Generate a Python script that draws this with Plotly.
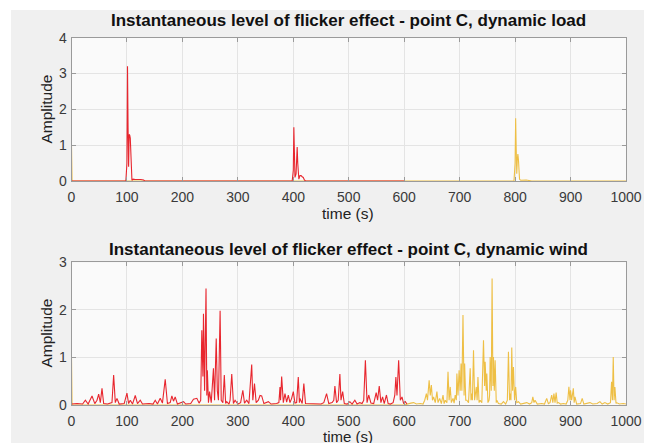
import plotly.graph_objects as go

# ---------------- data ----------------
xticks = [0, 100, 200, 300, 400, 500, 600, 700, 800, 900, 1000]

# top panel: dynamic load
t_load_red = [0, 98, 100, 101, 102, 103, 104, 105, 106, 107, 108, 109, 111, 115, 125, 130, 132,
              398, 400, 401, 402, 403, 405, 406, 407, 408, 409, 410, 412, 414, 416, 418, 420, 422, 600]
a_load_red = [0, 0, 0.5, 3.2, 1.5, 0.4, 1.3, 1.28, 1.2, 0.8, 0.2, 0.02, 0.05, 0.04, 0.04, 0.03, 0,
              0, 0.3, 1.5, 0.8, 0.1, 0.2, 0.6, 0.95, 0.5, 0.1, 0.05, 0.15, 0.15, 0.12, 0.1, 0.03, 0, 0]
t_load_yel = [0, 1, 600, 798, 800, 801, 802, 803, 804, 805, 806, 807, 808, 810, 820, 830, 1000]
a_load_yel = [1.0, 0, 0, 0, 0.5, 1.75, 0.9, 0.2, 0.6, 0.75, 0.6, 0.2, 0.05, 0.02, 0.03, 0, 0]

# bottom panel: dynamic wind
t_wind_red = [0, 10, 20, 25, 30, 37, 42, 46, 49, 52, 55, 58, 65, 73, 76, 79, 82, 86, 95, 100,
              103, 106, 110, 115, 119, 124, 128, 140, 147, 151, 155, 160, 164, 169, 173, 178, 181,
              184, 187, 191, 202, 206, 215, 220, 226, 230, 233, 235, 237, 238, 240, 242.6, 244, 245,
              247, 249, 252, 256, 258, 261, 263, 265, 268, 270, 273, 275.6, 278, 280, 284, 286, 289,
              292, 295, 300, 305, 309, 312, 316, 320, 325, 327, 330, 333, 337, 340, 343, 347, 355,
              360, 370, 374, 376, 377, 379, 382, 385, 388, 391, 394, 397, 400, 403, 406, 409, 411,
              412, 416, 419, 422, 427, 440, 450, 455, 460, 464, 470, 473, 475, 478, 481, 484, 486,
              489, 492, 497, 502, 506, 511, 515, 520, 524, 527, 530, 533, 536, 540, 545, 549.5, 552,
              555, 558, 561, 564, 568, 571, 575, 580, 583, 585, 587, 590, 593, 596, 599, 602, 605]
a_wind_red = [0.02, 0.03, 0.02, 0.1, 0.02, 0.19, 0.03, 0.1, 0.23, 0.05, 0.35, 0.03, 0.02, 0.05,
              0.63, 0.05, 0.14, 0.02, 0.03, 0.25, 0.03, 0.1, 0.02, 0.2, 0.03, 0.1, 0.02, 0.03, 0.02,
              0.1, 0.02, 0.14, 0.04, 0.54, 0.03, 0.05, 0.19, 0.08, 0.17, 0.02, 0.07, 0.02, 0.03, 0.12,
              0.14, 0.04, 0.1, 1.57, 0.6, 1.92, 0.3, 2.45, 0.2, 0.73, 0.05, 0.28, 0.05, 0.77, 0.1,
              1.4, 0.3, 0.1, 1.98, 0.1, 0.05, 0.63, 0.03, 0.07, 0.02, 0.1, 0.65, 0.03, 0.1, 0.02,
              0.05, 0.31, 0.04, 0.1, 0.03, 0.85, 0.1, 0.45, 0.05, 0.1, 0.2, 0.19, 0.03, 0.07, 0.02,
              0.03, 0.05, 0.38, 0.1, 0.6, 0.05, 0.24, 0.06, 0.21, 0.05, 0.14, 0.28, 0.04, 0.05, 0.59,
              0.05, 0.14, 0.03, 0.45, 0.03, 0.03, 0.02, 0.02, 0.05, 0.24, 0.03, 0.05, 0.1, 0.4, 0.05,
              0.1, 0.65, 0.1, 0.28, 0.03, 0.02, 0.07, 0.02, 0.1, 0.02, 0.05, 0.03, 0.1, 0.94, 0.05,
              0.21, 0.04, 0.03, 0.26, 0.1, 0.4, 0.05, 0.17, 0.03, 0.21, 0.03, 0.02, 0.05, 0.2, 0.59,
              0.2, 0.94, 0.1, 0.17, 0.03, 0.07, 0.02]
t_wind_yel = [0, 1, 600, 605, 612, 617, 622, 629, 634, 637, 640, 642, 645, 647, 649, 651, 653, 656,
              659, 661, 664, 667, 670, 672, 674, 677, 679, 681, 683, 685, 688, 690, 692, 694, 695,
              697, 699, 701, 702.5, 704, 706, 708, 709, 711, 713, 716, 719, 720.5, 721.6, 723, 725,
              727, 730, 731.5, 733, 735, 737, 740, 743, 745, 746, 748, 749, 751, 753, 754, 755, 757,
              758.5, 760, 761, 762.5, 764, 766, 767, 770, 775, 779, 783, 786, 788, 790, 791, 792.5,
              794, 795.5, 797, 799, 801, 803, 806, 810, 815, 821, 826, 830, 832, 834, 836, 840, 848,
              853, 857, 860, 863, 866, 868, 870, 872, 874, 876, 878, 882, 887, 892, 895, 897, 899,
              900, 902, 905, 906.5, 908, 911, 918, 921, 924, 930, 935, 940, 948, 953, 957, 962, 967,
              972, 974, 975.5, 977, 978.5, 980, 982, 983, 988, 995, 1000]
a_wind_yel = [1.0, 0, 0, 0.02, 0.04, 0.05, 0.02, 0.03, 0.02, 0.1, 0.24, 0.1, 0.52, 0.2, 0.42, 0.1,
              0.17, 0.05, 0.28, 0.05, 0.14, 0.03, 0.21, 0.03, 0.1, 0.05, 0.7, 0.1, 0.38, 0.05, 0.14,
              0.04, 0.21, 0.1, 0.66, 0.2, 0.73, 0.3, 0.87, 0.3, 1.89, 0.2, 0.87, 0.1, 0.1, 0.05, 0.77,
              0.1, 0.24, 0.1, 1.15, 0.1, 0.38, 0.1, 0.59, 0.05, 0.1, 0.05, 1.36, 0.4, 0.91, 0.3, 0.66,
              0.05, 0.1, 0.2, 1.01, 0.3, 2.66, 0.4, 1.01, 0.3, 0.94, 0.05, 0.1, 0.03, 0.02, 0.07,
              0.02, 0.1, 1.12, 0.1, 0.24, 0.1, 1.21, 0.3, 0.8, 0.1, 0.38, 0.05, 0.07, 0.02, 0.03,
              0.05, 0.02, 0.05, 0.17, 0.05, 0.1, 0.02, 0.03, 0.02, 0.14, 0.03, 0.05, 0.21, 0.05, 0.24,
              0.05, 0.26, 0.04, 0.05, 0.02, 0.03, 0.02, 0.1, 0.38, 0.1, 0.31, 0.1, 0.35, 0.05, 0.17,
              0.02, 0.03, 0.14, 0.02, 0.03, 0.05, 0.02, 0.03, 0.07, 0.02, 0.05, 0.02, 0.05, 0.49, 0.1,
              1.01, 0.1, 0.38, 0.03, 0.05, 0.02, 0.03, 0.02]

title_top = "Instantaneous level of flicker effect - point C, dynamic load"
title_bot = "Instantaneous level of flicker effect - point C, dynamic wind"

# ---------------- styling ----------------
# the page adds an 8px body margin, so the figure is 8px smaller and all
# positions below are given in figure pixels (page pixels minus 8)
W, H = 644, 435
RED = "#e8262e"
YEL = "#eebf45"
FIG_BG = "#f0f0f0"
AX_BG = "#fafafa"
FONT = "Liberation Sans, Arial, sans-serif"

def px(x):
    return x / W

def py(y):
    return 1 - y / H

fig = go.Figure()
fig.add_trace(go.Scatter(x=t_load_yel, y=a_load_yel, mode="lines", line=dict(color=YEL, width=1.1),
                         xaxis="x", yaxis="y", showlegend=False))
fig.add_trace(go.Scatter(x=t_load_red, y=a_load_red, mode="lines", line=dict(color=RED, width=1.1),
                         xaxis="x", yaxis="y", showlegend=False))
fig.add_trace(go.Scatter(x=t_wind_yel, y=a_wind_yel, mode="lines", line=dict(color=YEL, width=1.1),
                         xaxis="x2", yaxis="y2", showlegend=False))
fig.add_trace(go.Scatter(x=t_wind_red, y=a_wind_red, mode="lines", line=dict(color=RED, width=1.1),
                         xaxis="x2", yaxis="y2", showlegend=False))

xdom = [px(63.5), px(618)]
common_x = dict(range=[0, 1000], tickvals=xticks, domain=xdom, automargin=False, showgrid=True,
                gridcolor="#e4e4e4", gridwidth=1, zeroline=False, showline=True, linecolor="#9a9a9a",
                linewidth=1, mirror="ticks", ticks="inside", ticklen=4, tickcolor="#9a9a9a",
                tickfont=dict(family=FONT, size=14, color="#3a3a3a"), ticklabelstandoff=3)
common_y = dict(automargin=False, showgrid=True, gridcolor="#e4e4e4", gridwidth=1, zeroline=False,
                showline=True, linecolor="#9a9a9a", linewidth=1, mirror="ticks", ticks="inside",
                ticklen=4, tickcolor="#9a9a9a", tickfont=dict(family=FONT, size=14, color="#3a3a3a"),
                ticklabelstandoff=1)

fig.update_layout(
    width=W, height=H, margin=dict(l=0, r=0, t=0, b=0),
    paper_bgcolor="white", plot_bgcolor=AX_BG,
    xaxis=dict(anchor="y", **common_x),
    yaxis=dict(anchor="x", range=[0, 4], tickvals=[0, 1, 2, 3, 4], domain=[py(173), py(29.7)], **common_y),
    xaxis2=dict(anchor="y2", **common_x),
    yaxis2=dict(anchor="x2", range=[0, 3], tickvals=[0, 1, 2, 3], domain=[py(397), py(254.3)], **common_y),
    shapes=[
        dict(type="rect", xref="paper", yref="paper", x0=px(3), x1=1.0, y0=0, y1=py(2),
             fillcolor=FIG_BG, line=dict(width=0), layer="below"),
        dict(type="rect", xref="x domain", yref="y domain", x0=0, x1=1, y0=0, y1=1,
             fillcolor=AX_BG, line=dict(width=0), layer="below"),
        dict(type="rect", xref="x2 domain", yref="y2 domain", x0=0, x1=1, y0=0, y1=1,
             fillcolor=AX_BG, line=dict(width=0), layer="below"),
    ],
    annotations=[
        dict(text="<b>" + title_top + "</b>", x=px(340.5), y=py(12), xref="paper", yref="paper",
             showarrow=False, xanchor="center", yanchor="middle",
             font=dict(family=FONT, size=17, color="#111111")),
        dict(text="<b>" + title_bot + "</b>", x=px(340.5), y=py(241), xref="paper", yref="paper",
             showarrow=False, xanchor="center", yanchor="middle",
             font=dict(family=FONT, size=17, color="#111111")),
        dict(text="time (s)", x=px(340), y=py(205), xref="paper", yref="paper", showarrow=False,
             xanchor="center", yanchor="middle", font=dict(family=FONT, size=15.5, color="#222222")),
        dict(text="time (s)", x=px(340), y=py(428.5), xref="paper", yref="paper", showarrow=False,
             xanchor="center", yanchor="middle", font=dict(family=FONT, size=15, color="#222222")),
        dict(text="Amplitude", x=px(38), y=py(101.5), xref="paper", yref="paper", showarrow=False,
             textangle=-90, xanchor="center", yanchor="middle",
             font=dict(family=FONT, size=15.5, color="#222222")),
        dict(text="Amplitude", x=px(38), y=py(325.5), xref="paper", yref="paper", showarrow=False,
             textangle=-90, xanchor="center", yanchor="middle",
             font=dict(family=FONT, size=15.5, color="#222222")),
    ],
)

fig.write_html("out.html")
